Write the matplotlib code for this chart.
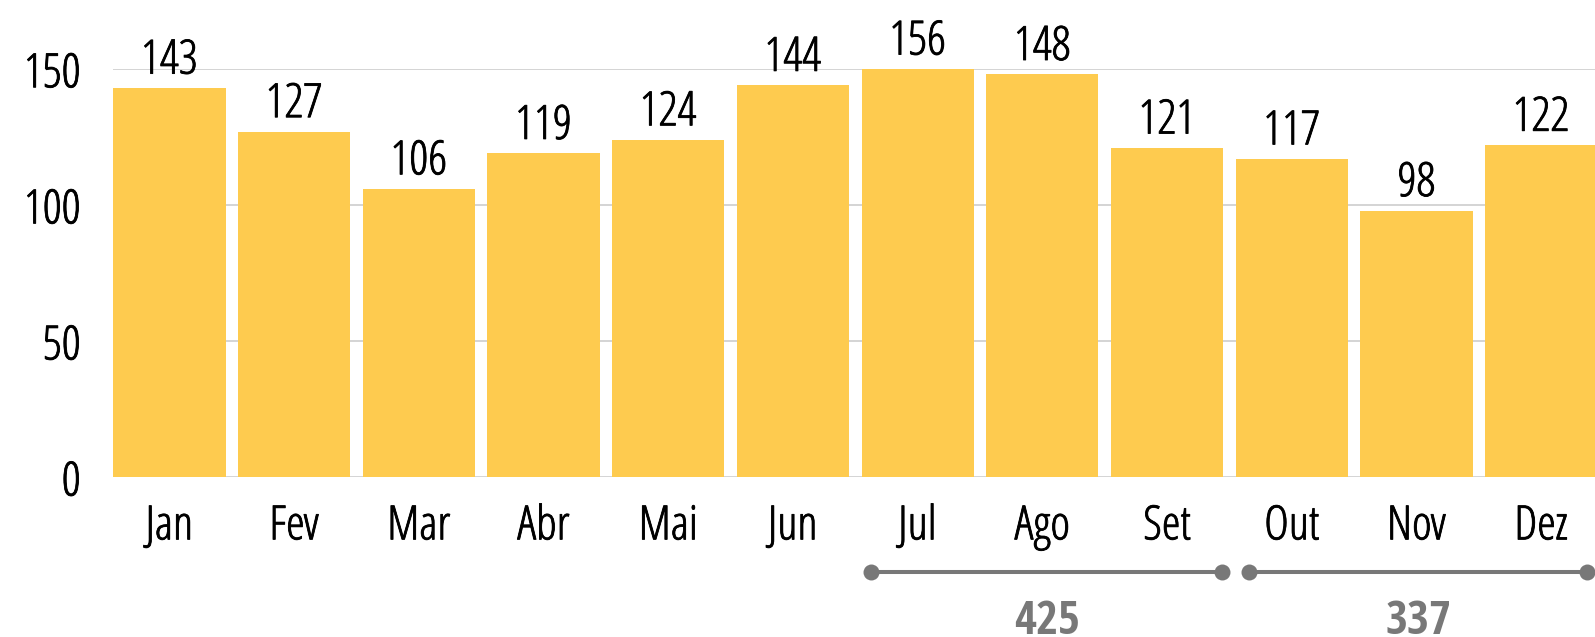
import matplotlib
matplotlib.use("Agg")
import matplotlib.pyplot as plt
from matplotlib import font_manager as fm
from matplotlib import patheffects as pe

# Monthly totals
MONTHS = ["Jan", "Fev", "Mar", "Abr", "Mai", "Jun",
          "Jul", "Ago", "Set", "Out", "Nov", "Dez"]
VALUES = [143, 127, 106, 119, 124, 144, 156, 148, 121, 117, 98, 122]

# Quarter groups summarised under the axis (first and last month index)
GROUPS = [(6, 8), (9, 11)]
GROUP_TOTALS = [sum(VALUES[a:b + 1]) for a, b in GROUPS]

Y_TICKS = [0, 50, 100, 150]
Y_MAX = 150

BAR_COLOR = "#FECB4F"
GRID_COLOR = "#C9C9C9"
GREY = "#787878"


def font_file(fname_part):
    for f in fm.fontManager.ttflist:
        if f.fname.endswith(fname_part):
            return f.fname
    return None


light_path = font_file("OpenSans-CondLight.ttf")
bold_path = font_file("OpenSans-CondBold.ttf")
FS = 34
light = fm.FontProperties(fname=light_path, size=FS) if light_path else \
    fm.FontProperties(family="DejaVu Sans", stretch="condensed", size=FS)
bold = fm.FontProperties(fname=bold_path, size=FS) if bold_path else \
    fm.FontProperties(family="DejaVu Sans", stretch="condensed", weight="bold", size=FS)

# a thin outline gives the light face a slightly fuller stroke
heavier = [pe.withStroke(linewidth=0.6, foreground="black")]

W, H, DPI = 1595, 637, 100
fig = plt.figure(figsize=(W / DPI, H / DPI), dpi=DPI)
ax_left, ax_bottom_px, ax_top_px = 113.3, 477.3, 69.0
ax = fig.add_axes([ax_left / W, (H - ax_bottom_px) / H,
                   1 - ax_left / W, (ax_bottom_px - ax_top_px) / H])

x = list(range(len(MONTHS)))
ax.bar(x, VALUES, width=0.9, color=BAR_COLOR, zorder=2)

ax.set_xlim(-0.45, 11.432)
ax.set_ylim(0, Y_MAX)
ax.set_yticks(Y_TICKS)
ax.set_yticklabels([str(t) for t in Y_TICKS], fontproperties=light)
ax.set_xticks(x)
ax.set_xticklabels(MONTHS, fontproperties=light)
for lab in ax.get_xticklabels() + ax.get_yticklabels():
    lab.set_path_effects(heavier)
ax.tick_params(axis="y", length=0, pad=23.5)
ax.tick_params(axis="x", length=0, pad=18.4)
ax.grid(axis="y", color=GRID_COLOR, linewidth=1.1, zorder=0)
ax.set_axisbelow(True)
for s in ax.spines.values():
    s.set_visible(False)

# value labels above each bar (bars taller than the axis are cut at its top)
for xi, v in zip(x, VALUES):
    ax.annotate(str(v), xy=(xi, min(v, Y_MAX)), xytext=(0, 10.4),
                textcoords="offset points", ha="center", va="baseline",
                fontproperties=light, color="black", annotation_clip=False,
                path_effects=heavier)

# group brackets with totals under the month labels
BRACKET_PAD = [(0.37, 0.44), (0.34, 0.37)]
px_per_unit = (ax_bottom_px - ax_top_px) / Y_MAX
y_line = -(572 - ax_bottom_px) / px_per_unit
y_text = -(634 - ax_bottom_px) / px_per_unit
for (a, b), (pl, pr), total in zip(GROUPS, BRACKET_PAD, GROUP_TOTALS):
    x0, x1 = a - pl, b + pr
    ax.plot([x0, x1], [y_line, y_line], color=GREY, linewidth=2.9,
            marker="o", markersize=11.5, markeredgewidth=0,
            solid_capstyle="butt", clip_on=False, zorder=3)
    ax.text((x0 + x1) / 2, y_text, str(total), ha="center", va="baseline",
            fontproperties=bold, color=GREY, clip_on=False)

fig.savefig("out.png", dpi=DPI, facecolor="white")
